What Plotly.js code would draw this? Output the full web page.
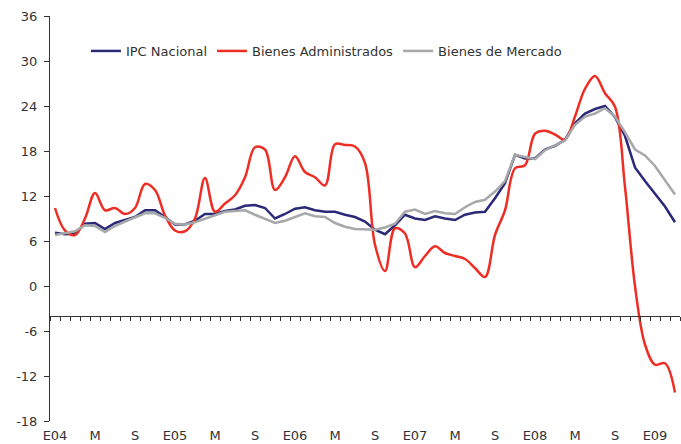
<!DOCTYPE html>
<html>
<head>
<meta charset="utf-8">
<script src="https://cdn.plot.ly/plotly-3.0.1.min.js"></script>
<style>html,body{margin:0;padding:0;background:#fff;}#chart{width:681px;height:444px;}</style>
</head>
<body>
<div id="chart"></div>
<script>
// Months: Jan 2004 (E04) .. Mar 2009
const monthIndex = Array.from({length: 63}, (_, i) => i);
const tickPositions = [0, 4, 8, 12, 16, 20, 24, 28, 32, 36, 40, 44, 48, 52, 56, 60];
const tickLabels = ["E04","M","S","E05","M","S","E06","M","S","E07","M","S","E08","M","S","E09"];
const yTickValues = [-18, -12, -6, 0, 6, 12, 18, 24, 30, 36];
const yTickLabels = ["-18", "-12", "-6", "0", "6", "12", "18", "24", "30", "36"];

const ipcNacional = [
  7.1, 6.9, 7.0, 8.3, 8.4, 7.6, 8.4, 8.8, 9.2, 10.1, 10.1, 9.2,
  8.2, 8.2, 8.7, 9.6, 9.6, 10.0, 10.2, 10.7, 10.8, 10.4, 9.0, 9.6,
  10.3, 10.5, 10.1, 9.9, 9.9, 9.5, 9.2, 8.6, 7.5, 6.9, 8.1, 9.5,
  9.0, 8.8, 9.3, 9.0, 8.8, 9.5, 9.8, 9.9, 11.7, 13.7, 17.5, 17.0,
  17.0, 18.2, 18.7, 19.5, 21.7, 23.0, 23.6, 24.0, 22.5, 20.0, 15.8, 14.0,
  12.3, 10.6, 8.5
];
const bienesAdministrados = [
  10.4, 7.4, 6.8, 9.0, 12.4, 10.1, 10.4, 9.6, 10.4, 13.6, 12.8, 9.4,
  7.4, 7.3, 9.0, 14.4, 9.9, 11.0, 12.1, 14.5, 18.5, 18.2, 12.8, 14.5,
  17.3, 15.2, 14.5, 13.4, 18.9, 18.8, 18.6, 16.4, 5.5, 2.0, 7.7, 7.0,
  2.5, 4.0, 5.3, 4.4, 4.0, 3.6, 2.4, 1.2, 6.8, 10.1, 15.7, 16.1,
  20.3, 20.7, 20.2, 19.5, 22.6, 26.3, 28.0, 25.7, 23.9, 13.2, 0.0, -7.8,
  -10.5, -10.3, -14.2
];
const bienesMercado = [
  6.8, 7.0, 7.3, 8.1, 8.0, 7.2, 8.0, 8.6, 9.1, 9.7, 9.7, 9.1,
  8.3, 8.2, 8.5, 9.0, 9.5, 9.9, 10.0, 10.1, 9.5, 8.9, 8.4, 8.7,
  9.2, 9.7, 9.3, 9.2, 8.4, 7.9, 7.6, 7.5, 7.5, 7.8, 8.3, 9.9,
  10.2, 9.6, 10.0, 9.7, 9.6, 10.5, 11.2, 11.5, 12.6, 14.0, 17.5, 17.2,
  16.9, 18.1, 18.8, 19.4, 21.5, 22.6, 23.0, 23.7, 22.6, 20.5, 18.2, 17.4,
  16.0, 14.1, 12.2
];

const FONT = "DejaVu Sans, Verdana, sans-serif";
const traces = [
  {x: monthIndex, y: ipcNacional, name: "IPC Nacional", type: "scatter", mode: "lines",
   line: {color: "#2B2A78", width: 2.5}},
  {x: monthIndex, y: bienesAdministrados, name: "Bienes Administrados", type: "scatter", mode: "lines",
   line: {color: "#EE2E24", width: 2.5, shape: "spline", smoothing: 1}},
  {x: monthIndex, y: bienesMercado, name: "Bienes de Mercado", type: "scatter", mode: "lines",
   line: {color: "#A7A8AA", width: 2.5}},
  {x: [], y: [], xaxis: "x2", showlegend: false, hoverinfo: "skip", type: "scatter"}
];

const xr = [-0.5, 62.5];
const layout = {
  width: 681, height: 444,
  margin: {l: 50, r: 1, t: 16, b: 23},
  paper_bgcolor: "#fff", plot_bgcolor: "#fff",
  font: {family: FONT, size: 13, color: "#333"},
  showlegend: true,
  legend: {orientation: "h", x: 0.057, xanchor: "left", y: 0.9136, yanchor: "middle",
           font: {family: FONT, size: 13, color: "#333"}, bgcolor: "rgba(0,0,0,0)",
           itemwidth: 30, traceorder: "normal"},
  xaxis: {range: xr, showgrid: false, zeroline: false, showline: false, ticks: "",
          tickmode: "array", tickvals: tickPositions, ticktext: tickLabels,
          tickfont: {family: FONT, size: 13, color: "#333"}, ticklabelstandoff: 5, fixedrange: true},
  xaxis2: {range: xr, overlaying: "x", anchor: "free", position: (-4 + 18) / 54, side: "bottom",
           showgrid: false, zeroline: false, showline: true, linecolor: "#333", linewidth: 1,
           ticks: "outside", ticklen: 4, tickwidth: 1, tickcolor: "#333",
           tickmode: "linear", tick0: -0.5, dtick: 1, showticklabels: false},
  yaxis: {range: [-18, 36], showgrid: false, zeroline: false, showline: true, linecolor: "#333", linewidth: 1,
          ticks: "outside", ticklen: 5, tickcolor: "#333",
          tickmode: "array", tickvals: yTickValues, ticktext: yTickLabels,
          tickfont: {family: FONT, size: 13, color: "#333"}, ticklabelstandoff: 4}
};

Plotly.newPlot("chart", traces, layout, {displayModeBar: false, staticPlot: true});
</script>
</body>
</html>
